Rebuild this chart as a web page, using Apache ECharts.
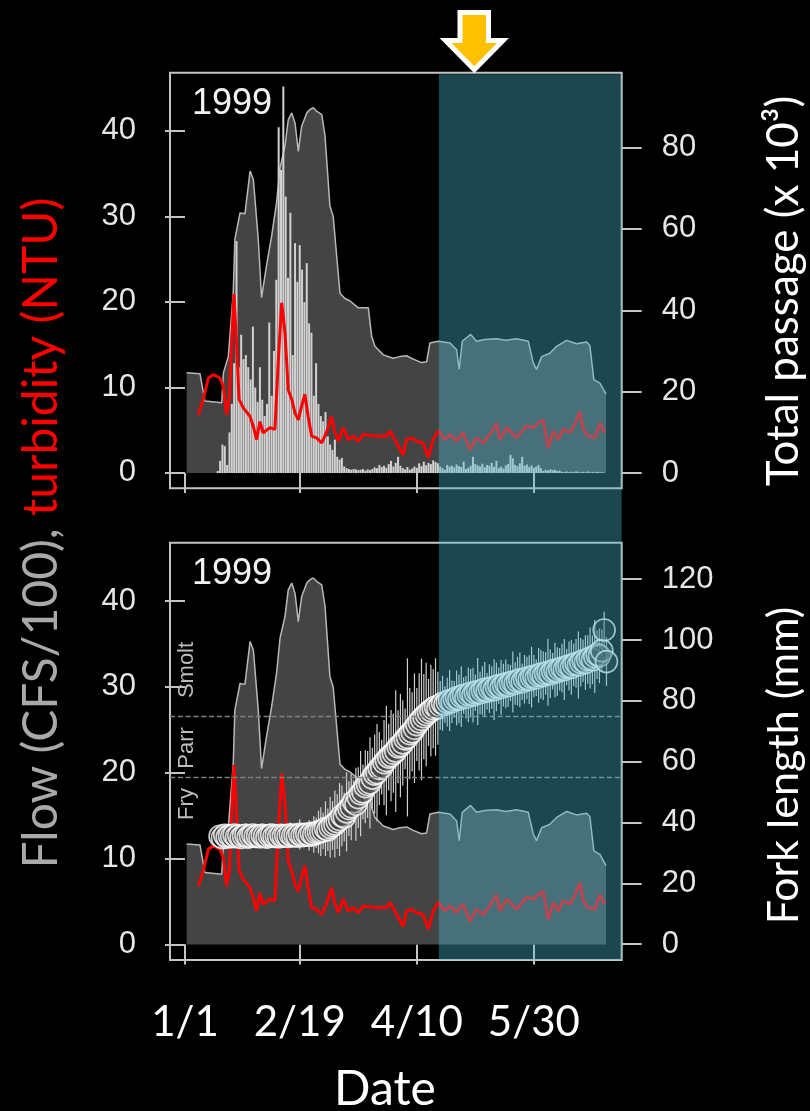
<!DOCTYPE html>
<html><head><meta charset="utf-8">
<script src="https://cdn.jsdelivr.net/npm/echarts@6/dist/echarts.min.js"></script>
<style>html,body{margin:0;padding:0;background:#000}#c{width:810px;height:1111px}</style>
</head><body><div id="c"></div>
<script>
// ---------- DATA (days since 1 Jan 1999) ----------
const tickDays = [0, 49, 99, 149];
const tickLabels = ['1/1', '2/19', '4/10', '5/30'];
const flowTicks = [0, 10, 20, 30, 40];
const passageTicks = [0, 20, 40, 60, 80];
const forkTicks = [0, 20, 40, 60, 80, 100, 120];
const stageBreaks = [55, 75];          // mm: Fry/Parr, Parr/Smolt
const shadeStartDay = 108.4;           // start of highlighted period

// Flow (CFS/100)
const flowDays = [0.7, 6.4, 8.5, 15.7, 16.4, 18.5, 20.6, 21.3, 23.5, 25.6, 27.8, 29.2, 31.3, 32.7, 34.8, 37, 39.1, 40.6, 42.7, 44.1, 45.6, 47, 48.4, 49.8, 52, 53.4, 54.8, 56.2, 58.4, 59.8, 61.9, 63.3, 64.8, 66.2, 68.3, 70.5, 74, 78.3, 79.7, 81.1, 84.7, 88.9, 91.8, 94.6, 97.5, 101, 103.2, 104.6, 108.2, 113.2, 116, 117.1, 118.4, 122, 124.5, 128, 133.1, 137, 141.6, 146.6, 148.7, 150.1, 152.3, 155.8, 158.7, 163, 167.2, 171.5, 172.9, 174.6, 177.2, 179.8];
const flowVals = [11.7, 11.6, 8.4, 8.2, 11.7, 13.6, 21.0, 27.3, 30.4, 30.3, 35.3, 34.3, 27.3, 20.5, 24.2, 27.7, 31.6, 35.7, 38.2, 41.3, 42.1, 40.9, 37.6, 40.5, 42.1, 42.5, 42.7, 42.3, 41.9, 39.4, 31.2, 30.0, 25.3, 21.0, 20.4, 20.1, 19.3, 19.3, 16.0, 14.8, 13.8, 13.4, 13.6, 13.7, 13.3, 12.9, 13.0, 15.2, 15.4, 15.2, 14.4, 12.1, 15.4, 16.2, 15.4, 15.6, 15.7, 15.5, 15.7, 15.4, 12.9, 12.1, 13.6, 14.0, 14.8, 15.5, 15.1, 15.3, 14.9, 10.9, 10.5, 9.2];

// Turbidity (NTU)
const turbDays = [5.7, 7.8, 10, 12.1, 14.9, 16.4, 17.8, 18.9, 19.9, 20.9, 22.1, 23.1, 24.9, 27.8, 29.2, 30.6, 32, 33.4, 36.3, 38.4, 39.8, 41.3, 42.7, 44.1, 45.6, 47, 48.4, 49.8, 51.2, 52.6, 54.1, 56.2, 58.4, 60.5, 62.6, 64, 65.5, 67.6, 69.7, 71.9, 74, 76.1, 81.9, 86.1, 87.5, 90.4, 93.2, 94.6, 96.6, 98.9, 101.7, 103.9, 106, 108.2, 111, 113.2, 116, 118.8, 121.7, 124.5, 127.4, 130.2, 133.1, 134.5, 137.4, 141.6, 145.9, 148.7, 151.6, 153, 155.1, 157.3, 159.4, 161.5, 164.4, 166.5, 168.7, 170.1, 172.2, 175.1, 177.2, 179.3];
const turbVals = [6.8, 8.6, 11.1, 11.5, 11.1, 10.1, 6.8, 8.6, 14.8, 20.9, 14.8, 8.6, 7.6, 6.6, 5.4, 3.9, 6.0, 4.7, 5.3, 5.1, 12.9, 19.9, 16.4, 9.7, 8.6, 7.0, 6.2, 7.8, 9.2, 6.6, 4.3, 4.1, 3.5, 4.8, 6.6, 4.8, 3.7, 5.3, 3.9, 4.3, 3.7, 4.5, 4.3, 4.3, 4.9, 3.5, 2.1, 3.9, 4.1, 3.7, 3.5, 1.8, 3.9, 4.9, 3.9, 4.5, 3.7, 4.7, 2.7, 4.1, 3.5, 4.5, 5.8, 3.9, 5.3, 4.1, 5.5, 5.3, 6.0, 6.2, 2.9, 4.9, 3.9, 5.1, 4.7, 5.7, 7.2, 5.1, 4.3, 4.1, 5.8, 4.7];

// Daily total passage (x 1000), day 0 .. 180
const passage = [0,0,0,0,0,0,0,0,0,0,0,0,0,0,
 0.5, 3, 7, 6.6, 2, 10, 17, 27, 57, 26, 34, 28, 29, 26, 23, 36, 21, 17.5, 26, 18, 14, 17, 37, 19, 30, 47.5,
 85, 74.5, 95, 68, 48, 64, 29, 56.5, 47, 56, 50, 42, 51.6, 36.8, 34.5, 19, 27, 17, 14, 12.7,
 15, 9, 7, 5.7, 8.2, 4, 3.3, 3.7, 1.6, 1.2, 1.0, 0.8, 1.0, 0.9, 0.7, 0.8, 1.0, 0.6, 0.9, 0.7,
 1.0, 1.4, 1.2, 2.0, 1.5, 1.8, 1.3, 2.2, 3.0, 1.6, 2.5, 4.0, 1.8, 1.2, 0.9, 1.5, 0.8, 1.1, 1.6, 1.3,
 2.4, 1.7, 2.8, 1.9, 2.5, 2.2, 3.1, 2.7, 2.4, 1.6, 1.2, 0.8, 2.0, 1.6, 1.8, 1.4, 2.1, 1.7, 1.5, 2.8,
 1.0, 1.3, 1.8, 4.0, 2.2, 1.9, 1.6, 2.3, 1.4, 2.0, 1.8, 2.5, 1.5, 3.0, 1.2, 1.6, 1.1, 1.9, 2.2, 4.5,
 3.6, 2.0, 1.7, 2.4, 4.0, 1.8, 2.1, 1.5, 1.9, 1.3, 1.6, 2.0, 1.2, 0.5, 0.8, 0.6, 0.9, 0.7, 0.8, 0.5,
 0.6, 0.3, 0.2, 0.4, 0.2, 0.3, 0.2, 0.4, 0.3, 0.2, 0.3, 0.2, 0.4, 0.2, 0.3, 0.2, 0.3, 0.2, 0.2, 0.1, 0];

// Fork length (mm): daily mean and half-range of error bar, days 15 .. 180
const forkStartDay = 15;
const forkMean = [
 35.5, 35.0, 35.8, 35.2, 35.6, 35.4, 35.9, 35.3, 35.7, 35.1, 35.6, 35.8, 35.2, 35.5, 35.9, 35.4, 35.6, 35.3, 35.8, 35.5,
 35.2, 35.7, 35.9, 35.4, 35.6, 35.3, 35.8, 35.5, 35.7, 35.4, 36.0, 35.6, 35.8, 35.5, 36.1, 35.7, 35.9, 36.2, 35.8, 36.4,
 36.1, 36.6, 36.9,
 37.0, 37.3, 38.0, 37.6, 38.4, 39.0, 39.5, 40.3, 41.0, 42.2, 41.8, 43.5, 44.6, 45.2, 46.8, 46.0, 48.2, 49.5, 50.1, 51.8,
 52.5, 53.0, 54.6, 55.9, 56.4, 57.8, 58.2, 59.7, 60.4, 61.5, 62.0, 62.8, 63.5, 64.9, 65.3, 66.2, 67.5, 68.0, 69.2, 69.8,
 71.0, 72.2, 73.1, 73.9, 74.8, 75.5, 76.2, 76.8, 77.4, 78.0, 77.6,
 78.5, 79.2, 78.8, 79.6, 80.1, 79.7, 80.5, 81.0, 80.6, 81.4, 81.8, 81.2, 82.0, 82.5, 81.9, 82.7, 83.1, 82.6, 83.4, 83.8,
 83.2, 84.0, 84.3, 83.7, 84.6, 85.0, 84.4, 85.2, 85.6, 85.0, 85.9, 86.2, 85.7, 86.5, 86.9, 86.3, 87.1, 87.5, 87.0, 87.8,
 88.1, 87.6, 88.4, 88.8, 88.3, 89.0, 89.4, 88.9, 89.7, 90.1, 89.6, 90.4, 90.8, 90.3, 91.1, 91.5, 91.0, 91.9, 92.3, 91.8,
 92.7, 93.2, 92.6, 93.6, 94.1, 93.5, 94.6, 95.2, 94.8, 96.5, 103.3, 92.9];
const forkErr = [
 2, 3, 2, 3, 2, 4, 3, 2, 3, 2, 3, 4, 2, 3, 2, 3, 3, 2, 4, 3, 2, 3, 2, 3, 4, 2, 3, 3, 2, 3, 4, 3, 2, 3, 5, 3, 4, 3, 5, 4, 6, 5, 7,
 8, 6, 9, 7, 10, 8, 11, 9, 12, 10, 8, 13, 9, 11, 7, 12, 10, 14, 9, 12, 11, 15, 10, 13, 16, 12, 9, 14, 18, 11, 15, 13, 20, 12, 17, 14, 10, 26, 15, 13, 18, 12, 16, 20, 14, 17, 11, 15, 13, 16, 12,
 8, 9, 6, 8, 10, 7, 6, 9, 8, 10, 6, 7, 9, 8, 9, 6, 11, 7, 8, 9, 6, 8, 7, 10, 8, 6, 9, 7, 8, 7, 6, 10, 7, 8, 9, 6, 8, 7, 8, 10, 7, 6, 9, 8, 8, 7, 11, 8, 6, 9, 8, 7, 8, 10, 6, 8, 9, 7, 8, 11, 8, 7, 9, 8, 10, 8, 12, 8, 9, 7, 6, 8];

// ---------- CHART ----------
const chart = echarts.init(document.getElementById('c'), null, {renderer: 'canvas'});

const flowData = flowDays.map((d, i) => [d, flowVals[i]]);
const turbData = turbDays.map((d, i) => [d, turbVals[i]]);
const passData = passage.map((v, i) => [i, v]);
const forkData = forkMean.map((v, i) => [forkStartDay + i, v]);
const errData = forkMean.map((v, i) => [forkStartDay + i, v - forkErr[i], v + forkErr[i]]);

const axisGrey = '#c4c4c4';
const labelFont = {color: '#e6e6e6', fontSize: 31, fontFamily: 'Liberation Sans'};

function xAxisDef(gi, showLabels) {
  return {
    type: 'value', gridIndex: gi, min: -6.4, max: 186.5,
    axisLine: {show: false},
    splitLine: {show: false},
    axisTick: {show: true, customValues: tickDays, length: 20, lineStyle: {color: axisGrey, width: 2}},
    axisLabel: {show: showLabels, customValues: tickDays, margin: 41,
      color: '#ffffff', fontSize: 42, fontFamily: 'Lato',
      formatter: v => tickLabels[tickDays.indexOf(v)]}
  };
}
function yAxisDef(gi, pos, min, max, ticks, margin) {
  return {
    type: 'value', gridIndex: gi, position: pos, min: min, max: max,
    axisLine: {show: false},
    splitLine: {show: false},
    axisTick: {show: true, customValues: ticks, length: 20, lineStyle: {color: axisGrey, width: 2}},
    axisLabel: Object.assign({show: true, customValues: ticks, margin: margin}, labelFont)
  };
}

const flowLine = {color: '#b8b8b8', width: 1.5};
const flowArea = {color: '#444444', opacity: 1};

const option = {
  backgroundColor: '#000000',
  animation: false,
  grid: [
    {left: 170, right: 188.3, top: 72.7, height: 415.6, show: true, borderColor: axisGrey, borderWidth: 2, backgroundColor: 'transparent'},
    {left: 170, right: 188.3, top: 542.7, height: 417.3, show: true, borderColor: axisGrey, borderWidth: 2, backgroundColor: 'transparent'}
  ],
  xAxis: [xAxisDef(0, false), xAxisDef(1, true)],
  yAxis: [
    yAxisDef(0, 'left', -1.8, 46.8, flowTicks, 34),
    yAxisDef(0, 'right', -3.75, 98.4, passageTicks, 40),
    yAxisDef(1, 'left', -1.8, 46.8, flowTicks, 34),
    yAxisDef(1, 'right', -5.2, 132, forkTicks, 40)
  ],
  series: [
    {type: 'line', xAxisIndex: 0, yAxisIndex: 0, data: flowData, showSymbol: false, symbol: 'none',
      lineStyle: flowLine, areaStyle: flowArea, z: 1},
    {type: 'bar', xAxisIndex: 0, yAxisIndex: 1, data: passData, barWidth: 2,
      itemStyle: {color: '#d2d2d2'}, z: 2},
    {type: 'line', xAxisIndex: 0, yAxisIndex: 0, data: turbData, showSymbol: false, symbol: 'none',
      lineStyle: {color: '#ff0000', width: 3}, z: 3},
    {type: 'line', xAxisIndex: 1, yAxisIndex: 2, data: flowData, showSymbol: false, symbol: 'none',
      lineStyle: flowLine, areaStyle: flowArea, z: 1},
    {type: 'line', xAxisIndex: 1, yAxisIndex: 2, data: turbData, showSymbol: false, symbol: 'none',
      lineStyle: {color: '#ff0000', width: 3}, z: 2},
    {type: 'custom', xAxisIndex: 1, yAxisIndex: 3, data: errData, z: 3,
      encode: {x: 0, y: [1, 2]},
      renderItem: function (params, api) {
        const p1 = api.coord([api.value(0), api.value(1)]);
        const p2 = api.coord([api.value(0), api.value(2)]);
        return {type: 'line', shape: {x1: p1[0], y1: p1[1], x2: p2[0], y2: p2[1]},
          style: {stroke: '#cfcfcf', lineWidth: 1.2}};
      }},
    {type: 'scatter', xAxisIndex: 1, yAxisIndex: 3, data: forkData, symbol: 'circle', symbolSize: 22, z: 4,
      itemStyle: {color: 'rgba(60,60,60,0.4)', borderColor: '#ffffff', borderWidth: 1.6},
      markLine: {silent: true, symbol: 'none', label: {show: false},
        lineStyle: {type: 'dashed', color: '#808080', width: 1.3},
        data: stageBreaks.map(v => ({yAxis: v}))}}
  ]
};
chart.setOption(option);

// ---------- ANNOTATIONS ----------
const xShade = chart.convertToPixel({xAxisIndex: 0}, shadeStartDay);
const xRight = chart.convertToPixel({xAxisIndex: 0}, 186.5);
const yTop = chart.convertToPixel({yAxisIndex: 0}, 46.8) + 1.5;
const yBottom = chart.convertToPixel({yAxisIndex: 2}, -1.8);

function vtext(x, y, text, size, color, family) {
  return {type: 'text', x: x, y: y, rotation: Math.PI / 2, z: 50,
    style: {text: text, fill: color, font: size + 'px ' + family, align: 'center', verticalAlign: 'middle'}};
}

chart.setOption({
  graphic: [
    {type: 'rect', z: 100, silent: true,
      shape: {x: xShade, y: yTop, width: xRight - xShade, height: yBottom - yTop},
      style: {fill: 'rgba(80,185,210,0.38)'}},
    {type: 'polygon', z: 101,
      shape: {points: [[460, 12.5], [488.5, 12.5], [488.5, 40.5], [503, 40.5], [474.3, 69.7], [445.5, 40.5], [460, 40.5]]},
      style: {fill: '#FFC000', stroke: '#ffffff', lineWidth: 5, lineJoin: 'miter'}},
    {type: 'text', x: 232, y: 104, z: 50, style: {text: '1999', fill: '#f2f2f2', font: '36px "Liberation Sans"', align: 'center', verticalAlign: 'middle'}},
    {type: 'text', x: 232, y: 574, z: 50, style: {text: '1999', fill: '#f2f2f2', font: '36px "Liberation Sans"', align: 'center', verticalAlign: 'middle'}},
    vtext(187, 670, 'Smolt', 22, '#bdbdbd', '"Liberation Sans"'),
    vtext(187, 748, 'Parr', 22, '#bdbdbd', '"Liberation Sans"'),
    vtext(187, 804, 'Fry', 22, '#bdbdbd', '"Liberation Sans"'),
    {type: 'text', x: 42, y: 533, rotation: Math.PI / 2, z: 50,
      style: {text: '{g|Flow (CFS/100), }{r|turbidity (NTU)}', align: 'center', verticalAlign: 'middle',
        rich: {g: {fill: '#a9a9a9', font: '48px Lato'}, r: {fill: '#ff0000', font: '48px Lato'}}}},
    vtext(784, 291, 'Total passage (x 10³)', 44, '#ffffff', 'Lato'),
    vtext(784, 765.5, 'Fork length (mm)', 43, '#ffffff', 'Lato'),
    {type: 'text', x: 385, y: 1090, z: 50, style: {text: 'Date', fill: '#ffffff', font: '48px Lato', align: 'center', verticalAlign: 'middle'}}
  ]
});
</script>
</body></html>
